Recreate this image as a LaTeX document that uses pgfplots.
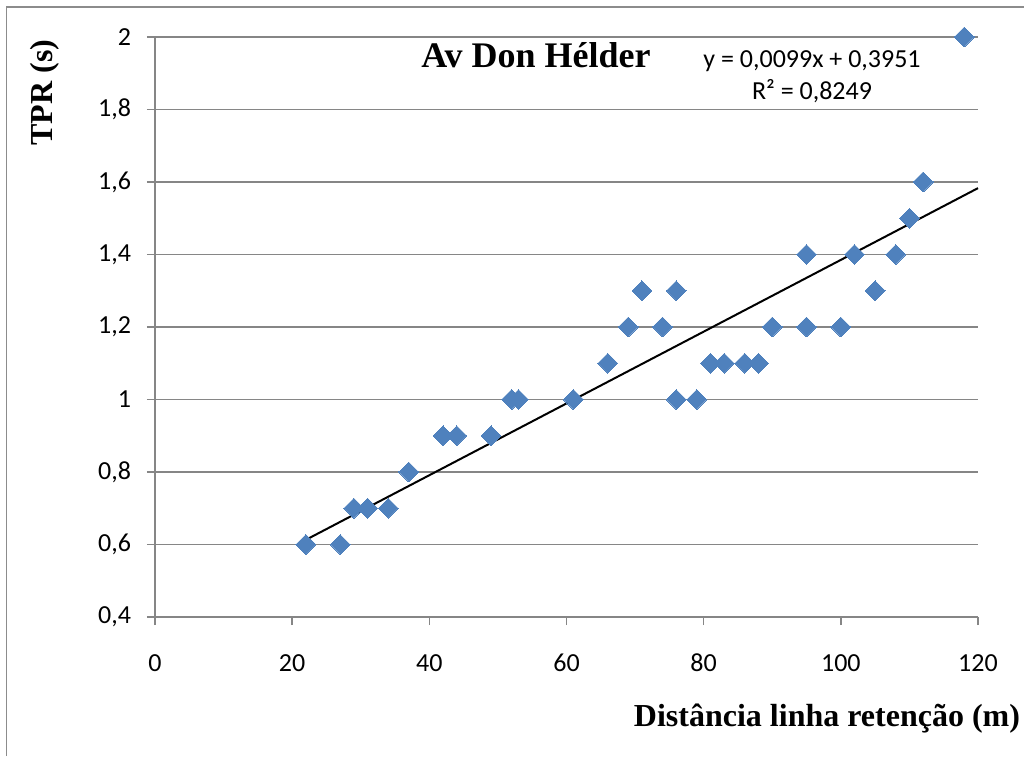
\documentclass[border=0pt]{standalone}
\usepackage{pgfplots}
\pgfplotsset{compat=1.18}
\usepackage{fontspec}
\setmainfont{Liberation Serif}
\newfontfamily\calibri{Carlito}

\definecolor{excelblue}{HTML}{4F81BD}
\definecolor{gridgray}{HTML}{868686}
\definecolor{framegray}{HTML}{8C8C8C}

\begin{document}
\begin{tikzpicture}[x=1pt,y=1pt]
  \useasboundingbox (0,0) rectangle (512,378);
  % chart frame (top and left edges)
  \draw[framegray, line width=0.9pt] (3.25,0) -- (3.25,374.5) -- (512,374.5);

  \begin{axis}[
    at={(77.5pt,69.5pt)}, anchor=south west,
    scale only axis, width=411.5pt, height=290pt,
    xmin=0, xmax=120, ymin=0.4, ymax=2,
    xtick={0,20,40,60,80,100,120},
    ytick={0.4,0.6,0.8,1,1.2,1.4,1.6,1.8,2},
    axis x line=bottom, axis y line=left,
    axis line style={-, draw=gridgray, line width=0.75pt},
    ymajorgrids, grid style={draw=gridgray, line width=0.75pt},
    tick align=outside, major tick length=4pt,
    tick style={draw=gridgray, line width=0.75pt},
    tick label style={font=\calibri\fontsize{13}{15}\selectfont},
    /pgf/number format/use comma,
    /pgf/number format/assume math mode=true,
    xticklabel style={anchor=base, yshift=-23pt},
    yticklabel style={anchor=east, xshift=-4.5pt},
    clip=false,
  ]
    % measured points
    \addplot[excelblue, only marks, mark=square*, mark size=3.5pt,
      mark options={rotate=45, solid, fill=excelblue, draw=excelblue, line width=0pt}]
      coordinates {
        (22,0.6) (27,0.6) (29,0.7) (31,0.7) (34,0.7) (37,0.8)
        (42,0.9) (44,0.9) (49,0.9) (52,1.0) (53,1.0) (61,1.0)
        (66,1.1) (69,1.2) (71,1.3) (74,1.2) (76,1.3) (76,1.0)
        (79,1.0) (81,1.1) (83,1.1) (86,1.1) (88,1.1) (90,1.2)
        (95,1.4) (95,1.2) (100,1.2) (102,1.4) (105,1.3) (108,1.4)
        (110,1.5) (112,1.6) (118,2.0)
      };
    % linear trend y = 0,0099x + 0,3951
    \addplot[black, line width=1pt] coordinates {(22,0.6129) (120,1.5831)};
  \end{axis}

  \node[anchor=base, font=\bfseries\fontsize{18}{20}\selectfont] at (268,344) {Av Don Hélder};
  \node[anchor=base, font=\calibri\fontsize{13}{15}\selectfont] at (406,344) {y = 0,0099x + 0,3951};
  \node[anchor=base, font=\calibri\fontsize{13}{15}\selectfont] at (406,328) {R² = 0,8249};
  \node[rotate=90, font=\bfseries\fontsize{16}{18}\selectfont] at (22.5,331.75) {TPR (s)};
  \node[anchor=base, font=\bfseries\fontsize{16}{18}\selectfont] at (413.5,15) {Distância linha retenção (m)};
\end{tikzpicture}
\end{document}
